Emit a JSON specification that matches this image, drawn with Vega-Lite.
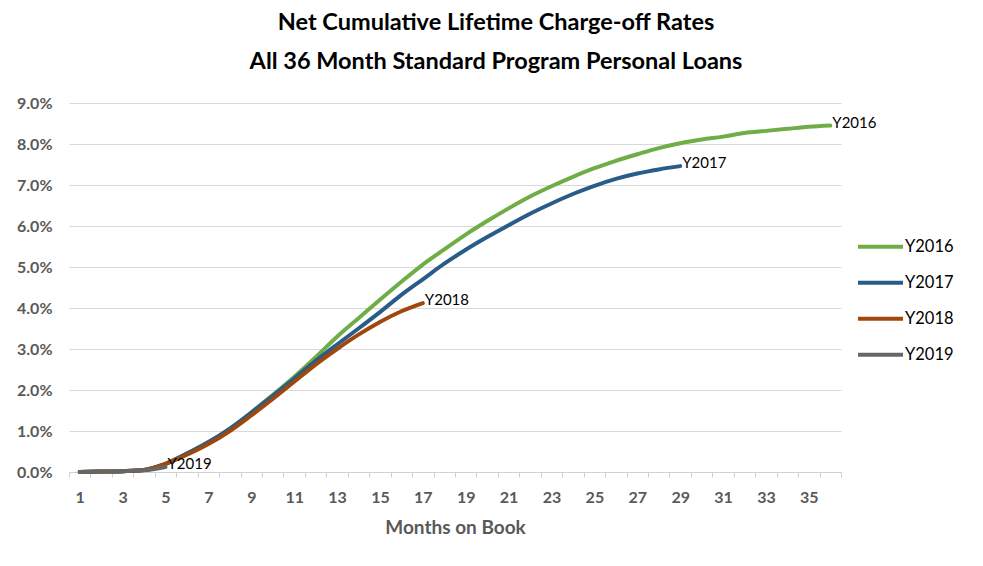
{
  "$schema": "https://vega.github.io/schema/vega-lite/v6.json",
  "width": 772,
  "height": 369,
  "autosize": {"type": "none"},
  "padding": {"left": 69, "top": 103, "right": 142, "bottom": 94},
  "background": "#ffffff",
  "config": {"view": {"stroke": null}},
  "title": {
    "text": ["Net Cumulative Lifetime Charge-off Rates", "All 36 Month Standard Program Personal Loans"],
    "font": "Lato",
    "fontSize": 23.5,
    "fontWeight": "bold",
    "color": "#000000",
    "anchor": "middle",
    "baseline": "bottom",
    "dx": 41,
    "lineHeight": 39,
    "offset": -2
  },
  "data": {
    "values": [
      {"series": "Y2016", "month": 1, "rate": 0.0000},
      {"series": "Y2016", "month": 2, "rate": 0.0001},
      {"series": "Y2016", "month": 3, "rate": 0.0002},
      {"series": "Y2016", "month": 4, "rate": 0.0005},
      {"series": "Y2016", "month": 5, "rate": 0.0020},
      {"series": "Y2016", "month": 6, "rate": 0.0045},
      {"series": "Y2016", "month": 7, "rate": 0.0072},
      {"series": "Y2016", "month": 8, "rate": 0.0105},
      {"series": "Y2016", "month": 9, "rate": 0.0145},
      {"series": "Y2016", "month": 10, "rate": 0.0188},
      {"series": "Y2016", "month": 11, "rate": 0.0232},
      {"series": "Y2016", "month": 12, "rate": 0.0280},
      {"series": "Y2016", "month": 13, "rate": 0.0330},
      {"series": "Y2016", "month": 14, "rate": 0.0375},
      {"series": "Y2016", "month": 15, "rate": 0.0420},
      {"series": "Y2016", "month": 16, "rate": 0.0464},
      {"series": "Y2016", "month": 17, "rate": 0.0506},
      {"series": "Y2016", "month": 18, "rate": 0.0543},
      {"series": "Y2016", "month": 19, "rate": 0.0579},
      {"series": "Y2016", "month": 20, "rate": 0.0612},
      {"series": "Y2016", "month": 21, "rate": 0.0643},
      {"series": "Y2016", "month": 22, "rate": 0.0672},
      {"series": "Y2016", "month": 23, "rate": 0.0697},
      {"series": "Y2016", "month": 24, "rate": 0.0720},
      {"series": "Y2016", "month": 25, "rate": 0.0741},
      {"series": "Y2016", "month": 26, "rate": 0.0759},
      {"series": "Y2016", "month": 27, "rate": 0.0775},
      {"series": "Y2016", "month": 28, "rate": 0.0790},
      {"series": "Y2016", "month": 29, "rate": 0.0802},
      {"series": "Y2016", "month": 30, "rate": 0.0811},
      {"series": "Y2016", "month": 31, "rate": 0.0818},
      {"series": "Y2016", "month": 32, "rate": 0.0827},
      {"series": "Y2016", "month": 33, "rate": 0.0832},
      {"series": "Y2016", "month": 34, "rate": 0.0837},
      {"series": "Y2016", "month": 35, "rate": 0.0842},
      {"series": "Y2016", "month": 36, "rate": 0.0845},
      {"series": "Y2017", "month": 1, "rate": 0.0000},
      {"series": "Y2017", "month": 2, "rate": 0.0001},
      {"series": "Y2017", "month": 3, "rate": 0.0002},
      {"series": "Y2017", "month": 4, "rate": 0.0005},
      {"series": "Y2017", "month": 5, "rate": 0.0020},
      {"series": "Y2017", "month": 6, "rate": 0.0045},
      {"series": "Y2017", "month": 7, "rate": 0.0073},
      {"series": "Y2017", "month": 8, "rate": 0.0106},
      {"series": "Y2017", "month": 9, "rate": 0.0145},
      {"series": "Y2017", "month": 10, "rate": 0.0186},
      {"series": "Y2017", "month": 11, "rate": 0.0228},
      {"series": "Y2017", "month": 12, "rate": 0.0271},
      {"series": "Y2017", "month": 13, "rate": 0.0311},
      {"series": "Y2017", "month": 14, "rate": 0.0350},
      {"series": "Y2017", "month": 15, "rate": 0.0390},
      {"series": "Y2017", "month": 16, "rate": 0.0432},
      {"series": "Y2017", "month": 17, "rate": 0.0470},
      {"series": "Y2017", "month": 18, "rate": 0.0508},
      {"series": "Y2017", "month": 19, "rate": 0.0542},
      {"series": "Y2017", "month": 20, "rate": 0.0573},
      {"series": "Y2017", "month": 21, "rate": 0.0602},
      {"series": "Y2017", "month": 22, "rate": 0.0630},
      {"series": "Y2017", "month": 23, "rate": 0.0655},
      {"series": "Y2017", "month": 24, "rate": 0.0678},
      {"series": "Y2017", "month": 25, "rate": 0.0698},
      {"series": "Y2017", "month": 26, "rate": 0.0715},
      {"series": "Y2017", "month": 27, "rate": 0.0728},
      {"series": "Y2017", "month": 28, "rate": 0.0738},
      {"series": "Y2017", "month": 29, "rate": 0.0746},
      {"series": "Y2018", "month": 1, "rate": 0.0000},
      {"series": "Y2018", "month": 2, "rate": 0.0001},
      {"series": "Y2018", "month": 3, "rate": 0.0002},
      {"series": "Y2018", "month": 4, "rate": 0.0005},
      {"series": "Y2018", "month": 5, "rate": 0.0020},
      {"series": "Y2018", "month": 6, "rate": 0.0042},
      {"series": "Y2018", "month": 7, "rate": 0.0068},
      {"series": "Y2018", "month": 8, "rate": 0.0100},
      {"series": "Y2018", "month": 9, "rate": 0.0138},
      {"series": "Y2018", "month": 10, "rate": 0.0178},
      {"series": "Y2018", "month": 11, "rate": 0.0220},
      {"series": "Y2018", "month": 12, "rate": 0.0262},
      {"series": "Y2018", "month": 13, "rate": 0.0300},
      {"series": "Y2018", "month": 14, "rate": 0.0335},
      {"series": "Y2018", "month": 15, "rate": 0.0366},
      {"series": "Y2018", "month": 16, "rate": 0.0392},
      {"series": "Y2018", "month": 17, "rate": 0.0412},
      {"series": "Y2019", "month": 1, "rate": 0.0000},
      {"series": "Y2019", "month": 2, "rate": 0.0001},
      {"series": "Y2019", "month": 3, "rate": 0.0002},
      {"series": "Y2019", "month": 4, "rate": 0.0004},
      {"series": "Y2019", "month": 5, "rate": 0.0012}
    ]
  },
  "encoding": {
    "x": {
      "field": "month",
      "type": "quantitative",
      "scale": {"domain": [0.5, 36.5], "nice": false, "zero": false},
      "axis": {
        "title": "Months on Book",
        "values": [0.5, 1, 1.5, 2.5, 3, 3.5, 4.5, 5, 5.5, 6.5, 7, 7.5, 8.5, 9, 9.5, 10.5, 11, 11.5, 12.5, 13, 13.5, 14.5, 15, 15.5, 16.5, 17, 17.5, 18.5, 19, 19.5, 20.5, 21, 21.5, 22.5, 23, 23.5, 24.5, 25, 25.5, 26.5, 27, 27.5, 28.5, 29, 29.5, 30.5, 31, 31.5, 32.5, 33, 33.5, 34.5, 35, 35.5, 36.5],
        "labelExpr": "datum.value % 2 == 1 ? format(datum.value, 'd') : ''",
        "labelOverlap": false,
        "labelFlush": false,
        "grid": false,
        "domainColor": "#d0d0d0",
        "domainWidth": 1,
        "tickColor": "#d0d0d0",
        "tickOpacity": {"condition": {"test": "datum.value % 1 != 0", "value": 1}, "value": 0},
        "tickSize": 5,
        "labelPadding": 12,
        "labelFont": "Lato",
        "labelFontSize": 16,
        "labelFontWeight": "bold",
        "labelColor": "#595959",
        "titleFont": "Lato",
        "titleFontSize": 19,
        "titleFontWeight": "bold",
        "titleColor": "#595959",
        "titlePadding": 13
      }
    },
    "y": {
      "field": "rate",
      "type": "quantitative",
      "scale": {"domain": [0, 0.09], "nice": false},
      "axis": {
        "title": null,
        "values": [0, 0.01, 0.02, 0.03, 0.04, 0.05, 0.06, 0.07, 0.08, 0.09],
        "format": ".1%",
        "domain": false,
        "ticks": false,
        "grid": true,
        "gridColor": "#d9d9d9",
        "gridWidth": 1,
        "labelPadding": 17,
        "labelFont": "Lato",
        "labelFontSize": 16,
        "labelFontWeight": "bold",
        "labelColor": "#595959"
      }
    },
    "color": {
      "field": "series",
      "type": "nominal",
      "scale": {"domain": ["Y2016", "Y2017", "Y2018", "Y2019"], "range": ["#70AD47", "#2A5C8A", "#9E480E", "#666666"]},
      "legend": {
        "title": null,
        "orient": "none",
        "legendX": 787,
        "legendY": 126,
        "symbolType": "stroke",
        "symbolSize": 2025,
        "symbolStrokeWidth": 4,
        "labelFont": "Lato",
        "labelFontSize": 16.5,
        "labelColor": "#000000",
        "labelOffset": 0,
        "rowPadding": 0,
        "clipHeight": 35.5
      }
    }
  },
  "layer": [
    {
      "mark": {"type": "line", "strokeWidth": 4, "interpolate": "monotone", "strokeCap": "round", "strokeJoin": "round"}
    },
    {
      "transform": [
        {"joinaggregate": [{"op": "max", "field": "month", "as": "lastMonth"}], "groupby": ["series"]},
        {"filter": "datum.month == datum.lastMonth"}
      ],
      "mark": {"type": "text", "align": "left", "baseline": "middle", "dx": 2, "dy": -3, "font": "Lato", "fontSize": 15, "color": "#000000"},
      "encoding": {
        "text": {"field": "series"},
        "color": {"value": "#000000"}
      }
    }
  ]
}
